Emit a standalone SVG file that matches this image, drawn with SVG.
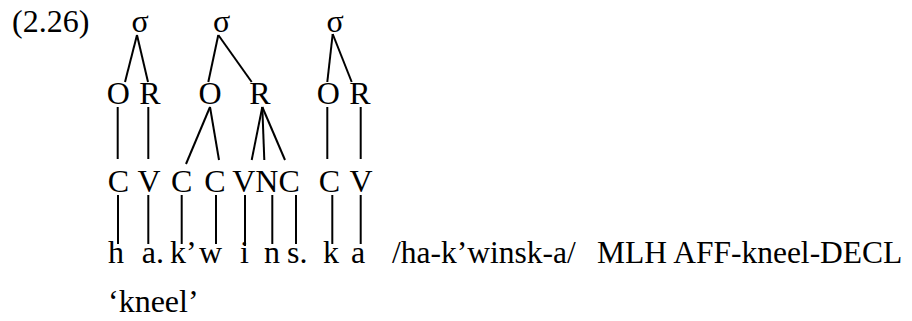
<svg xmlns="http://www.w3.org/2000/svg" width="912" height="321" viewBox="0 0 912 321">
<style>
text{font-family:"Liberation Serif","Times New Roman",serif;font-size:32px;fill:#000}
.m{text-anchor:middle}
.g{font-size:31.5px}
line{stroke:#000;stroke-width:2}
</style>
<rect width="912" height="321" fill="#fff"/>
<text id="num" x="12" y="32">(2.26)</text>
<g id="syl1">
<text class="m" x="140" y="32">σ</text>
<text class="m" x="118.3" y="104">O</text>
<text class="m" x="150" y="104">R</text>
</g>
<g id="syl2">
<text class="m" x="221.7" y="32">σ</text>
<text class="m" x="210" y="104">O</text>
<text class="m" x="260" y="104">R</text>
</g>
<g id="syl3">
<text class="m" x="335" y="32">σ</text>
<text class="m" x="328.3" y="104">O</text>
<text class="m" x="360" y="104">R</text>
</g>
<g id="cv">
<text class="m" x="118.3" y="192">C</text>
<text class="m" x="149" y="192">V</text>
<text class="m" x="181.7" y="192">C</text>
<text class="m" x="215" y="192">C</text>
<text class="m" x="266" y="192">VNC</text>
<text class="m" x="329.3" y="192">C</text>
<text class="m" x="361" y="192">V</text>
</g>
<g id="segments">
<text x="108" y="263">h</text>
<text x="141.7" y="263">a.</text>
<text x="170" y="263">k’</text>
<text x="199" y="263">w</text>
<text x="240" y="263">i</text>
<text x="264" y="263">n</text>
<text x="287" y="263">s.</text>
<text x="323" y="263">k</text>
<text x="351" y="263">a</text>
</g>
<g id="gloss">
<text class="g" x="392" y="263">/ha-k’winsk-a/</text>
<text class="g" x="597" y="263">MLH AFF-kneel-DECL</text>
<text x="108" y="312">‘kneel’</text>
</g>
<g id="connectors">
<line x1="137" y1="35" x2="125" y2="82"/>
<line x1="137" y1="35" x2="148" y2="82"/>
<line x1="218.3" y1="35" x2="208.3" y2="82"/>
<line x1="218.3" y1="35" x2="251.7" y2="82"/>
<line x1="332.7" y1="34" x2="327.3" y2="82"/>
<line x1="332.7" y1="34" x2="351.7" y2="82"/>
<line x1="117.7" y1="107" x2="117.7" y2="159"/>
<line x1="148.3" y1="107" x2="148.3" y2="159"/>
<line x1="210" y1="107" x2="186" y2="164"/>
<line x1="210" y1="107" x2="219" y2="160"/>
<line x1="262.3" y1="107" x2="251.7" y2="160"/>
<line x1="262.3" y1="107" x2="264.3" y2="160"/>
<line x1="262.3" y1="107" x2="285" y2="160"/>
<line x1="327.3" y1="107" x2="327.3" y2="159"/>
<line x1="360.7" y1="107" x2="360.7" y2="159"/>
<line x1="118" y1="195" x2="118" y2="244"/>
<line x1="148.3" y1="195" x2="148.3" y2="244"/>
<line x1="181.7" y1="195" x2="181.7" y2="244"/>
<line x1="216" y1="195" x2="216" y2="244"/>
<line x1="245" y1="195" x2="245" y2="246"/>
<line x1="272.3" y1="195" x2="272.3" y2="244"/>
<line x1="296" y1="195" x2="296" y2="244"/>
<line x1="332.3" y1="195" x2="332.3" y2="244"/>
<line x1="360.7" y1="195" x2="360.7" y2="244"/>
</g>
</svg>
